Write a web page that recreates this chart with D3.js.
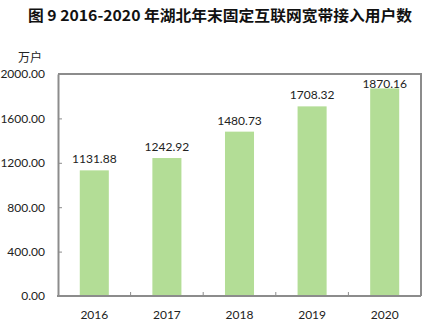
<!DOCTYPE html>
<html><head><meta charset="utf-8">
<script src="https://cdn.jsdelivr.net/npm/d3@7"></script>
<style>body{margin:0;background:#fff}</style>
</head><body>
<svg id="c" width="430" height="327"></svg>
<script>
const categories = ["2016","2017","2018","2019","2020"];
const values = [1131.88, 1242.92, 1480.73, 1708.32, 1870.16];
const yTicks = [0, 400, 800, 1200, 1600, 2000];
const title = "图 9 2016-2020 年湖北年末固定互联网宽带接入用户数";
const unit = "万户";

const svg = d3.select("#c");
const L = 58, R = 421, T = 74, B = 296;
const x = d3.scaleBand().domain(categories).range([L, R]).paddingInner(0.6).paddingOuter(0.3);
const y = d3.scaleLinear().domain([0, 2000]).range([B, T]);
const font = "Lato, 'Open Sans', sans-serif";

svg.append("text").attr("x", 220).attr("y", 21).attr("text-anchor", "middle")
  .attr("font-family", "'Noto Sans CJK SC', serif").attr("font-weight", "bold")
  .attr("font-size", 15).attr("fill", "#111").attr("textLength", 384).attr("lengthAdjust", "spacingAndGlyphs")
  .text(title);

svg.append("text").attr("x", 30).attr("y", 62).attr("text-anchor", "middle")
  .attr("font-family", "'Noto Sans CJK SC', sans-serif").attr("font-size", 12).attr("fill", "#222").text(unit);

// frame top & right
svg.append("path").attr("d", `M${L},${T}H${R}V${B}`).attr("fill", "none").attr("stroke", "#8c8c8c").attr("stroke-width", 2);

// bars
svg.selectAll("rect.bar").data(values).join("rect")
  .attr("x", (d, i) => x(categories[i])).attr("width", x.bandwidth())
  .attr("y", d => y(d)).attr("height", d => B - y(d)).attr("fill", "#b3dd96");

svg.selectAll("text.val").data(values).join("text")
  .attr("x", (d, i) => x(categories[i]) + x.bandwidth() / 2).attr("y", d => Math.max(y(d) - 7, T + 14))
  .attr("text-anchor", "middle").attr("font-family", font).attr("font-size", 12).attr("fill", "#222")
  .text(d => d.toFixed(2));

// y axis
const ya = svg.append("g").attr("transform", `translate(${L},0)`)
  .call(d3.axisLeft(y).tickValues(yTicks).tickFormat(d => d.toFixed(2)).tickSizeInner(-4).tickSizeOuter(0).tickPadding(13));
ya.select(".domain").attr("stroke", "#8c8c8c").attr("stroke-width", 2);
ya.selectAll(".tick line").attr("stroke", "#8c8c8c");
ya.selectAll(".tick text").attr("font-family", font).attr("font-size", 12).attr("fill", "#222");

// x axis
const xa = svg.append("g").attr("transform", `translate(0,${B})`)
  .call(d3.axisBottom(x).tickSize(0).tickPadding(14));
xa.select(".domain").remove();
xa.append("line").attr("x1", L - 1).attr("x2", R).attr("stroke", "#8c8c8c").attr("stroke-width", 2);
xa.selectAll(".tick text").attr("font-family", font).attr("font-size", 12).attr("fill", "#222");
// category boundary ticks
xa.selectAll("line.sep").data(categories.slice(1)).join("line").attr("class", "sep")
  .attr("x1", d => x(d) - x.step() * x.paddingInner() / 2).attr("x2", d => x(d) - x.step() * x.paddingInner() / 2)
  .attr("y1", 0).attr("y2", -4).attr("stroke", "#8c8c8c");
</script>
</body></html>
